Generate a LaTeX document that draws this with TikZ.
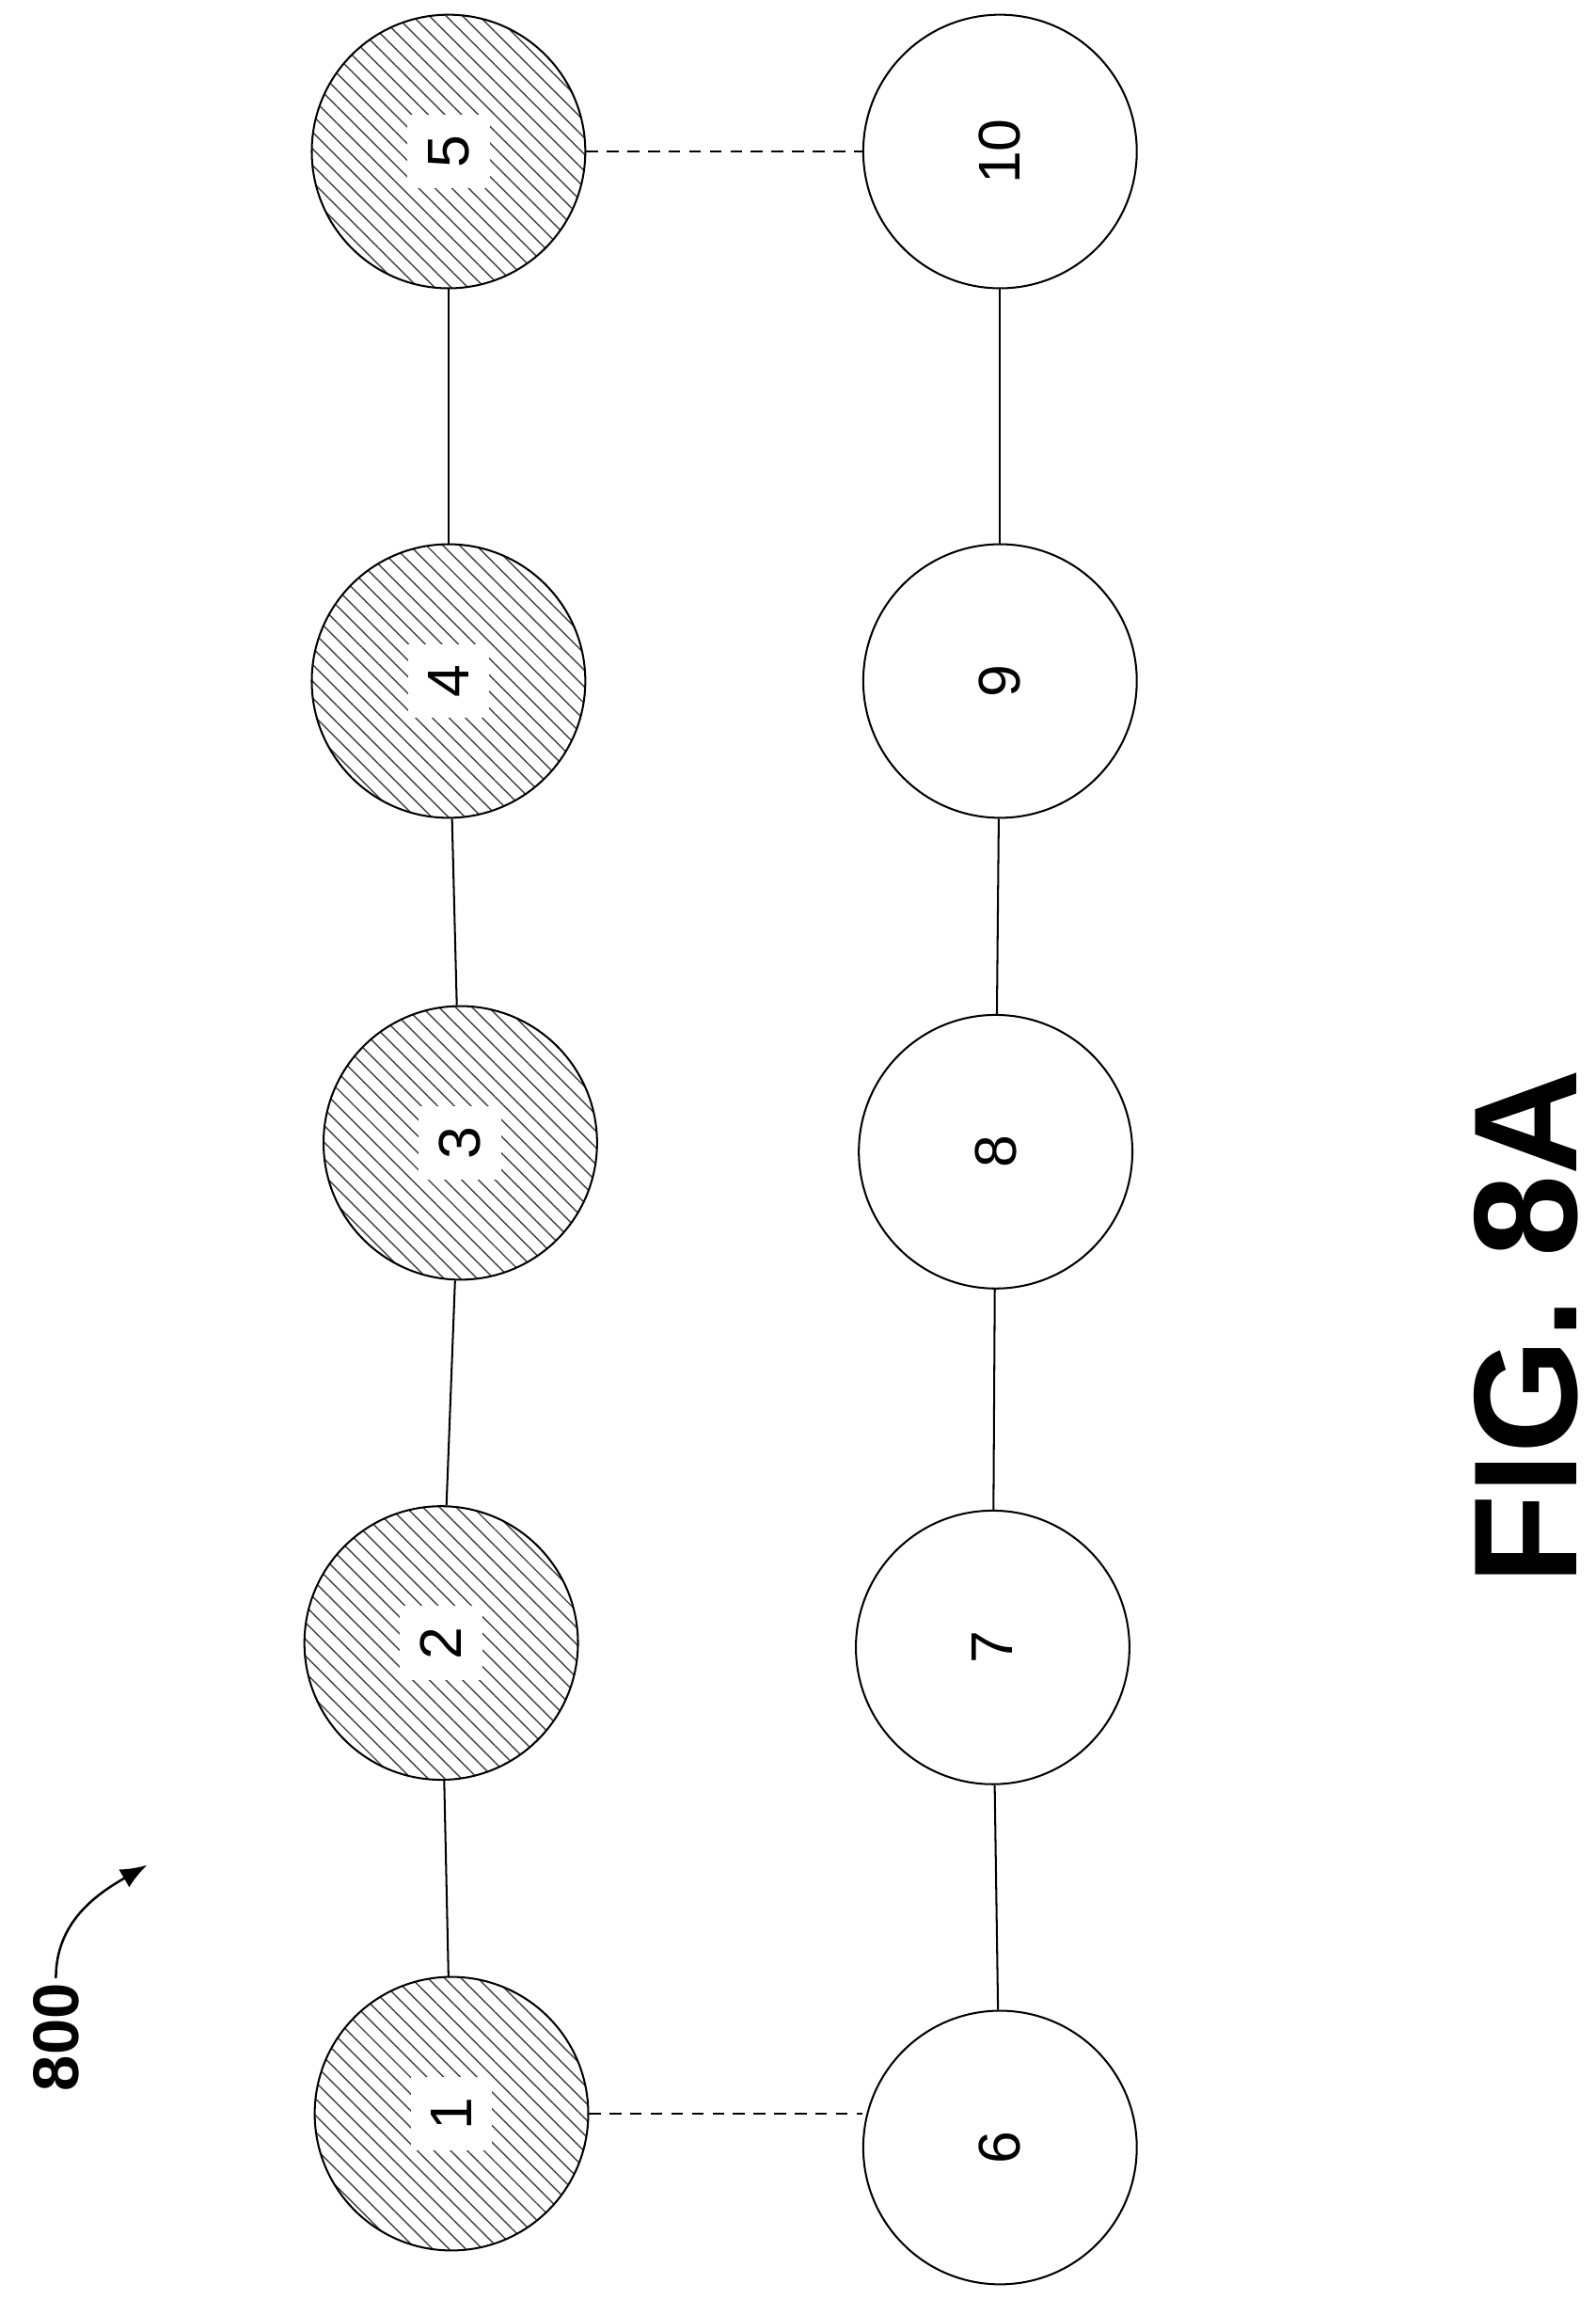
\documentclass[tikz,border=0pt]{standalone}
\usepackage{fontspec}
\setmainfont{Liberation Sans}
\usetikzlibrary{patterns.meta,arrows.meta}
\begin{document}
\begin{tikzpicture}[x=1pt,y=-1pt,>=latex]
\tikzstyle{vert} = [circle, draw, line width=1.3pt, minimum size=186pt, inner sep=0pt]
\tikzstyle{busy} = [vert, pattern={Lines[angle=-45,distance=8pt,line width=0.9pt]}, pattern color=black!75]
\tikzstyle{num} = [fill=white, inner sep=14pt, rotate=90, font=\fontsize{40}{48}\selectfont]
\tikzstyle{link} = [line width=1.3pt]
\useasboundingbox (0,0) rectangle (1085,1563);

\node[busy] (One) at (307,1437) {};
\node[busy] (Two) at (300,1117) {};
\node[busy] (Three) at (313,777) {};
\node[busy] (Four) at (305,463) {};
\node[busy] (Five) at (305,103) {};
\node[num] at (One) {1};
\node[num] at (Two) {2};
\node[num] at (Three) {3};
\node[num] at (Four) {4};
\node[num] at (Five) {5};

\node[vert] (Six) at (680,1460) {};
\node[vert] (Seven) at (675,1120) {};
\node[vert] (Eight) at (677,783) {};
\node[vert] (Nine) at (680,463) {};
\node[vert] (Ten) at (680,103) {};
\node[rotate=90, font=\fontsize{40}{48}\selectfont] at (Six) {6};
\node[rotate=90, font=\fontsize{40}{48}\selectfont] at (Seven) {7};
\node[rotate=90, font=\fontsize{40}{48}\selectfont] at (Eight) {8};
\node[rotate=90, font=\fontsize{40}{48}\selectfont] at (Nine) {9};
\node[rotate=90, font=\fontsize{40}{48}\selectfont] at (Ten) {10};

\draw[link] (One) -- (Two);
\draw[link] (Two) -- (Three);
\draw[link] (Three) -- (Four);
\draw[link] (Four) -- (Five);
\draw[link] (Six) -- (Seven);
\draw[link] (Seven) -- (Eight);
\draw[link] (Eight) -- (Nine);
\draw[link] (Nine) -- (Ten);
\draw[link, dash pattern=on 8pt off 6pt] (One.east) -- (Six.west |- One.east);
\draw[link, dash pattern=on 8pt off 6pt] (Five.east) -- (Ten.west |- Five.east);

\node[rotate=90, font=\fontsize{44}{52}\selectfont\bfseries] (Label) at (38,1385) {800};
\coordinate (Tip) at (100,1268);
\draw[line width=1.6pt, -{Latex[length=18pt,width=14pt]}] (Label.east) to[out=90, in=210] (Tip);
\node[rotate=90, font=\fontsize{100}{110}\selectfont\bfseries] (Fig) at (1038,902) {FIG. 8A};
\end{tikzpicture}
\end{document}
